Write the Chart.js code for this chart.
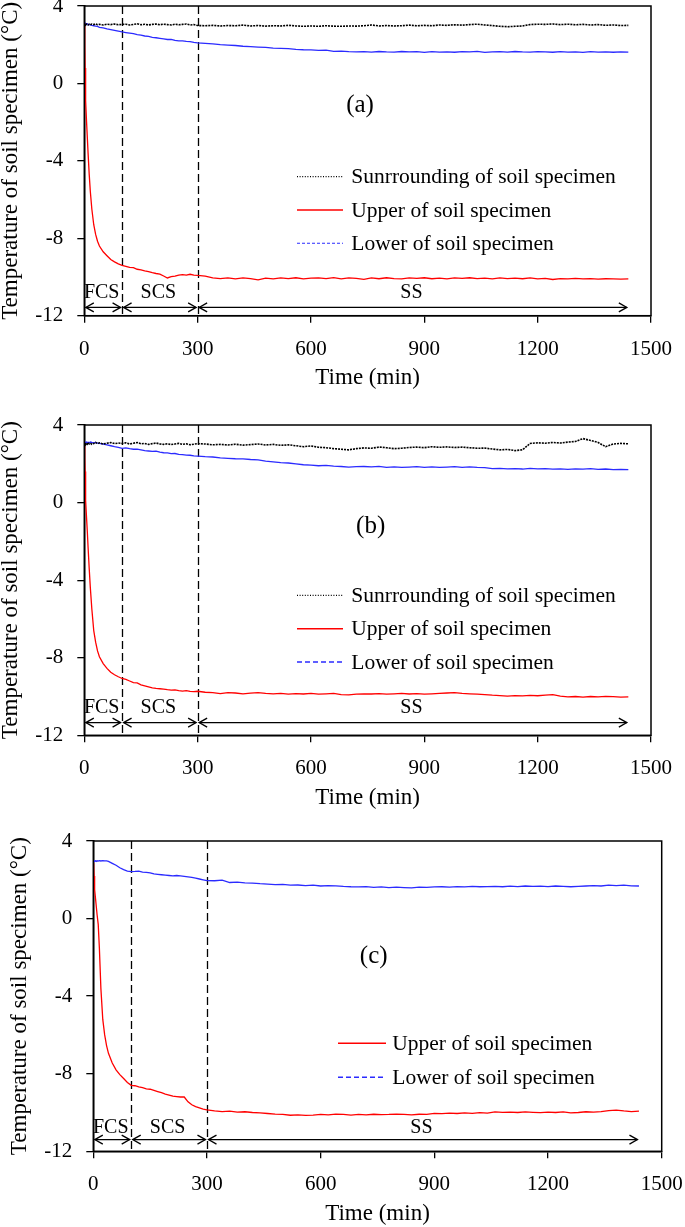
<!DOCTYPE html>
<html><head><meta charset="utf-8">
<script src="https://cdn.jsdelivr.net/npm/chart.js@4.4.0/dist/chart.umd.min.js"></script>
<style>
html,body{margin:0;padding:0;background:#fff;overflow:hidden;width:685px;height:1227px;position:relative}
canvas{position:absolute;left:0}
</style></head><body>
<canvas id="ca"></canvas><canvas id="cb"></canvas><canvas id="cc"></canvas>
<script>
// ---------- data ----------
const time = [0,1,2,3,4,6,8,10,13,16,20,25,30,35,40,50,60,70,80,90,100,
  110,120,130,140,150,160,170,180,190,200,210,220,230,240,250,260,270,280,290,300,
  320,340,360,380,400,420,440,460,480,500,
  520,540,560,580,600,620,640,660,680,700,
  720,740,760,780,800,820,840,860,880,900,
  920,940,960,980,1000,1020,1040,1060,1080,1100,
  1120,1140,1160,1180,1200,1220,1240,1260,1280,1300,
  1320,1340,1360,1380,1400,1420,1440];

const xTicks = [0,300,600,900,1200,1500];
const yTicks = [-12,-8,-4,0,4];
const phaseBounds = [0,100,300,1440];
const phaseNames = ['FCS','SCS','SS'];
const seriesNames = ['Sunrrounding of soil specimen','Upper of soil specimen','Lower of soil specimen'];
const panelNames = ['(a)','(b)','(c)'];
const xTitle = 'Time (min)';
const yTitle = 'Temperature of soil specimen (°C)';

const surroundA = [3.05,3.08,3.02,3.06,3.03,3.07,3.04,3.02,3.06,3.03,3.07,3.04,3.08,3.03,3.05,3.02,3.06,3.04,3.07,3.03,3.05,
  3.06,3.02,3.05,3.08,3.03,3.06,3.02,3.05,3.07,3.03,3.06,3.04,3.02,3.06,3.03,3.05,3.07,3.02,3.04,2.99,
  2.98,3.00,2.97,2.99,2.98,3.01,2.97,2.99,2.96,2.98,
  2.97,3.00,2.97,2.95,2.97,2.95,2.98,2.96,2.95,2.97,
  2.96,2.98,3.02,2.97,2.99,2.97,2.98,3.01,2.98,3.00,
  2.98,3.02,3.00,3.03,3.01,3.04,3.06,3.02,2.99,2.95,
  2.93,2.95,2.97,3.04,3.06,3.05,3.07,3.04,3.06,3.03,
  3.05,3.02,3.04,3.00,3.02,2.99,3.00];
const upperA = [3.1,2.0,0.8,-0.3,-0.9,-2.0,-2.8,-3.6,-4.7,-5.6,-6.5,-7.3,-7.8,-8.15,-8.4,-8.7,-8.9,-9.1,-9.22,-9.32,-9.4,
  -9.45,-9.5,-9.52,-9.6,-9.63,-9.68,-9.72,-9.78,-9.82,-9.85,-9.95,-10.05,-9.98,-9.95,-9.9,-9.88,-9.9,-9.86,-9.9,-9.92,
  -9.95,-10.05,-10.08,-10.05,-10.1,-10.05,-10.08,-10.15,-10.06,-10.1,
  -10.05,-10.08,-10.04,-10.1,-10.06,-10.05,-10.08,-10.03,-10.1,-10.05,
  -10.07,-10.12,-10.05,-10.09,-10.04,-10.08,-10.1,-10.05,-10.07,-10.04,
  -10.09,-10.06,-10.1,-10.05,-10.07,-10.04,-10.08,-10.06,-10.1,-10.05,
  -10.08,-10.06,-10.09,-10.05,-10.1,-10.07,-10.13,-10.08,-10.1,-10.07,
  -10.1,-10.08,-10.11,-10.09,-10.1,-10.11,-10.1];
const lowerA = [3.12,3.1,3.12,3.08,3.1,3.06,3.08,3.04,3.05,3.02,3.0,2.98,2.96,2.95,2.9,2.87,2.82,2.78,2.74,2.7,2.66,
  2.63,2.6,2.57,2.52,2.49,2.45,2.43,2.38,2.36,2.33,2.3,2.27,2.28,2.22,2.2,2.2,2.17,2.16,2.12,2.1,
  2.07,2.04,2.0,1.98,1.96,1.92,1.9,1.88,1.86,1.82,
  1.81,1.8,1.76,1.74,1.73,1.71,1.72,1.66,1.67,1.64,
  1.63,1.64,1.62,1.65,1.63,1.62,1.65,1.63,1.64,1.6,
  1.64,1.62,1.63,1.61,1.64,1.63,1.66,1.6,1.63,1.64,
  1.62,1.65,1.63,1.62,1.64,1.63,1.61,1.64,1.62,1.63,
  1.6,1.64,1.62,1.63,1.61,1.63,1.62];

const surroundB = [3.0,3.05,3.02,3.08,3.0,3.06,3.02,3.1,3.03,3.07,3.0,3.05,3.1,3.04,3.08,3.02,3.06,3.1,3.04,3.07,3.05,
  3.08,3.02,3.06,3.1,3.03,3.05,3.0,3.04,3.07,3.02,3.0,3.03,2.99,3.02,3.05,3.0,3.03,2.98,3.01,3.04,
  3.02,2.98,3.0,2.97,3.01,2.96,2.99,3.02,2.97,3.0,
  2.95,2.98,2.93,2.88,2.92,2.85,2.83,2.78,2.75,2.72,
  2.78,2.82,2.8,2.86,2.83,2.78,2.8,2.84,2.86,2.83,
  2.88,2.85,2.87,2.84,2.86,2.83,2.8,2.81,2.76,2.72,
  2.74,2.68,2.72,3.05,3.08,3.06,3.1,3.07,3.12,3.15,
  3.3,3.2,3.1,2.88,3.02,3.05,3.03];
const upperB = [3.0,2.3,1.6,0.9,0.1,-0.8,-1.5,-2.3,-3.4,-4.4,-5.5,-6.6,-7.2,-7.65,-7.95,-8.3,-8.55,-8.75,-8.88,-8.98,-9.07,
  -9.12,-9.2,-9.28,-9.3,-9.4,-9.45,-9.5,-9.55,-9.58,-9.6,-9.62,-9.65,-9.67,-9.66,-9.7,-9.72,-9.7,-9.74,-9.75,-9.73,
  -9.78,-9.8,-9.85,-9.8,-9.82,-9.86,-9.83,-9.8,-9.84,-9.86,
  -9.84,-9.88,-9.85,-9.87,-9.84,-9.88,-9.86,-9.84,-9.9,-9.92,
  -9.88,-9.86,-9.87,-9.85,-9.88,-9.86,-9.84,-9.87,-9.85,-9.88,
  -9.86,-9.84,-9.82,-9.8,-9.84,-9.86,-9.88,-9.9,-9.93,-9.95,
  -9.98,-9.95,-9.97,-9.94,-9.96,-9.93,-9.9,-9.98,-10.02,-10.0,
  -10.03,-10.0,-10.02,-9.99,-10.01,-10.03,-10.02];
const lowerB = [3.08,3.12,3.1,3.14,3.1,3.12,3.09,3.11,3.08,3.12,3.1,3.08,3.1,3.07,3.05,3.02,2.98,2.93,2.88,2.85,2.8,
  2.82,2.78,2.75,2.76,2.72,2.68,2.66,2.64,2.65,2.6,2.57,2.56,2.52,2.53,2.49,2.47,2.45,2.44,2.41,2.4,
  2.37,2.35,2.3,2.28,2.26,2.25,2.22,2.2,2.14,2.1,
  2.06,2.04,2.0,1.95,1.93,1.9,1.92,1.88,1.86,1.83,
  1.85,1.86,1.84,1.87,1.82,1.84,1.81,1.83,1.85,1.82,
  1.84,1.81,1.83,1.85,1.82,1.84,1.81,1.8,1.75,1.76,
  1.74,1.75,1.73,1.76,1.74,1.75,1.72,1.74,1.71,1.74,
  1.72,1.75,1.71,1.73,1.7,1.71,1.7];

const upperC = [2.85,2.6,2.2,1.8,1.5,1.0,0.6,0.2,-0.3,-1.5,-3.6,-5.2,-6.0,-6.55,-6.95,-7.45,-7.8,-8.05,-8.25,-8.45,-8.6,
  -8.62,-8.68,-8.72,-8.78,-8.8,-8.86,-8.92,-8.98,-9.05,-9.1,-9.16,-9.18,-9.2,-9.2,-9.45,-9.6,-9.7,-9.76,-9.82,-9.86,
  -9.92,-9.95,-9.93,-9.98,-9.96,-10.0,-10.02,-10.05,-10.08,-10.1,
  -10.14,-10.12,-10.15,-10.13,-10.1,-10.12,-10.08,-10.1,-10.13,-10.1,
  -10.12,-10.09,-10.11,-10.1,-10.08,-10.1,-10.12,-10.09,-10.1,-10.04,
  -10.06,-10.03,-10.05,-10.02,-10.04,-10.01,-10.03,-9.97,-9.99,-9.98,
  -10.0,-9.97,-9.99,-10.01,-9.98,-10.0,-9.97,-10.02,-10.0,-9.96,
  -9.98,-9.95,-9.9,-9.88,-9.92,-9.95,-9.93];
const lowerC = [2.95,2.98,2.95,2.98,2.96,2.98,2.95,2.98,2.96,2.99,2.97,2.99,2.98,2.97,2.95,2.85,2.75,2.62,2.52,2.45,2.42,
  2.43,2.45,2.4,2.38,2.36,2.3,2.28,2.26,2.24,2.22,2.2,2.22,2.2,2.18,2.15,2.12,2.08,2.04,2.0,1.96,
  1.95,1.98,1.86,1.88,1.84,1.83,1.8,1.78,1.75,1.76,
  1.72,1.73,1.7,1.72,1.68,1.7,1.69,1.66,1.64,1.63,
  1.65,1.61,1.63,1.6,1.62,1.6,1.58,1.62,1.61,1.63,
  1.64,1.62,1.65,1.63,1.66,1.64,1.65,1.66,1.64,1.67,
  1.65,1.68,1.66,1.67,1.65,1.68,1.66,1.64,1.66,1.68,
  1.7,1.68,1.72,1.7,1.72,1.69,1.68];

// ---------- drawing ----------
const FONT = "'Liberation Serif','Times New Roman',serif";
const BLACK = '#000000', RED = '#ff0000', BLUE = '#2b2bff';

function ds(label, ys, color, width, dash, legendDash, legendWidth) {
  return {label, data: time.map((t,i)=>({x:t, y:ys[i]})), borderColor: color, backgroundColor: color,
    borderWidth: width, borderDash: dash, pointRadius: 0, fill: false, tension: 0,
    legendDash, legendWidth};
}

function head(ctx, x, y, dir) {
  ctx.beginPath();
  ctx.moveTo(x - dir*8, y - 4.5); ctx.lineTo(x, y); ctx.lineTo(x - dir*8, y + 4.5);
  ctx.stroke();
}

const decor = {
  id: 'decor',
  beforeDatasetsDraw(chart, args, o) {
    const {ctx, chartArea: a, scales: {x}} = chart;
    ctx.save();
    ctx.strokeStyle = BLACK; ctx.lineWidth = 1.3; ctx.setLineDash([8,4]);
    [phaseBounds[1], phaseBounds[2]].forEach(v => {
      const px = Math.round(x.getPixelForValue(v)) + 0.5;
      ctx.beginPath(); ctx.moveTo(px, a.top); ctx.lineTo(px, a.bottom); ctx.stroke();
    });
    ctx.restore();
  },
  afterDraw(chart, args, o) {
    const {ctx, chartArea: a, scales: {x}} = chart;
    ctx.save();
    // frame
    ctx.strokeStyle = BLACK; ctx.lineWidth = 1.5; ctx.setLineDash([]);
    ctx.strokeRect(a.left, a.top, a.right - a.left, a.bottom - a.top);
    // phase arrows
    ctx.lineWidth = 1.3;
    const ay = a.bottom - o.arrowUp;
    for (let i = 0; i < phaseNames.length; i++) {
      const x0 = x.getPixelForValue(phaseBounds[i]) + 1.5;
      const x1 = x.getPixelForValue(phaseBounds[i+1]) - 1.5;
      ctx.beginPath(); ctx.moveTo(x0, ay); ctx.lineTo(x1, ay); ctx.stroke();
      head(ctx, x0, ay, -1); head(ctx, x1, ay, 1);
      ctx.fillStyle = BLACK; ctx.font = '20px ' + FONT;
      ctx.textAlign = 'center'; ctx.textBaseline = 'middle';
      ctx.fillText(phaseNames[i], (x0 + x1)/2 - 1.5, a.bottom - o.textUp);
    }
    // panel label
    ctx.font = '25px ' + FONT; ctx.textAlign = 'center'; ctx.textBaseline = 'middle';
    ctx.fillText(o.panel, a.left + o.panelX, a.top + o.panelY);
    // legend
    const L = o.legend;
    ctx.font = '21.5px ' + FONT; ctx.textAlign = 'left';
    chart.data.datasets.forEach((d, i) => {
      const yy = a.top + L.y + i * L.gap;
      const xs = a.left + L.x;
      ctx.strokeStyle = d.borderColor; ctx.lineWidth = d.legendWidth;
      ctx.setLineDash(d.legendDash);
      ctx.beginPath(); ctx.moveTo(xs, yy); ctx.lineTo(xs + L.len, yy); ctx.stroke();
      ctx.setLineDash([]);
      ctx.fillStyle = BLACK;
      ctx.fillText(d.label, xs + L.len + L.textGap, yy + 1);
    });
    ctx.restore();
  }
};

function makePanel(id, box, datasets, deco) {
  const canvas = document.getElementById(id);
  const canvasTop = Math.max(0, box.T - 20);
  const H = Math.round(box.B + 82 - canvasTop);
  canvas.width = 685; canvas.height = H;
  canvas.style.width = '685px'; canvas.style.height = H + 'px';
  canvas.style.top = canvasTop + 'px';
  const xH = 76;            // x-axis box height (ticks + title)
  const padTop = box.T - canvasTop;
  const padBottom = H - (box.B - canvasTop) - xH;
  const yW = box.L;
  const titleLH = 23 * 1.2;
  return new Chart(canvas, {
    type: 'line',
    data: {datasets},
    plugins: [decor],
    options: {
      responsive: false, animation: false, events: [],
      layout: {padding: {top: padTop, bottom: padBottom, left: 0, right: 685 - box.R}},
      plugins: {legend: {display: false}, tooltip: {enabled: false}, decor: deco},
      scales: {
        x: {
          type: 'linear', min: 0, max: 1500,
          afterBuildTicks: s => { s.ticks = xTicks.map(v => ({value: v})); },
          ticks: {font: {family: FONT, size: 21}, color: BLACK, padding: 14, maxRotation: 0, autoSkip: false,
                  callback: v => String(v)},
          grid: {drawOnChartArea: false, drawTicks: true, tickLength: 7, color: BLACK, lineWidth: 1.3},
          border: {display: true, color: BLACK, width: 1.5},
          title: {display: true, text: xTitle, font: {family: FONT, size: 23}, color: BLACK, padding: {top: 0, bottom: 0}},
          afterFit: s => { s.height = xH; s.paddingLeft = 0; s.paddingRight = 0; }
        },
        y: {
          type: 'linear', min: -12, max: 4,
          afterBuildTicks: s => { s.ticks = yTicks.map(v => ({value: v})); },
          ticks: {font: {family: FONT, size: 21}, color: BLACK, padding: 14, callback: v => String(v)},
          grid: {drawOnChartArea: false, drawTicks: true, tickLength: 7, color: BLACK, lineWidth: 1.3},
          border: {display: true, color: BLACK, width: 1.5},
          title: {display: true, text: yTitle, font: {family: FONT, size: 23}, color: BLACK,
                  padding: {top: box.L - 73 - titleLH/2, bottom: 0}},
          afterFit: s => { s.width = yW; s.paddingTop = 0; s.paddingBottom = 0; }
        }
      }
    }
  });
}

makePanel('ca', {L: 84.3, T: 6, R: 651, B: 315.7}, [
  ds(seriesNames[0], surroundA, BLACK, 1.6, [2,1], [1,1.6], 1.3),
  ds(seriesNames[1], upperA, RED, 1.3, [], [], 1.5),
  ds(seriesNames[2], lowerA, BLUE, 1.3, [], [3,2], 1.1)
], {panel: panelNames[0], panelX: 275.7, panelY: 99, arrowUp: 8.3, textUp: 23,
    legend: {x: 212.7, y: 170.7, gap: 33.3, len: 46, textGap: 8.3}});

makePanel('cb', {L: 84.3, T: 424.7, R: 651, B: 735}, [
  ds(seriesNames[0], surroundB, BLACK, 1.6, [2,1], [1,1.6], 1.3),
  ds(seriesNames[1], upperB, RED, 1.3, [], [], 1.5),
  ds(seriesNames[2], lowerB, BLUE, 1.3, [], [5,3], 1.5)
], {panel: panelNames[1], panelX: 286.4, panelY: 101.3, arrowUp: 12.7, textUp: 27.5,
    legend: {x: 212.7, y: 170.3, gap: 33.4, len: 46, textGap: 8.3}});

makePanel('cc', {L: 93.3, T: 840.7, R: 661.7, B: 1151}, [
  ds(seriesNames[1], upperC, RED, 1.3, [], [], 1.5),
  ds(seriesNames[2], lowerC, BLUE, 1.3, [], [5,3], 1.5)
], {panel: panelNames[2], panelX: 280.4, panelY: 115.3, arrowUp: 11.7, textUp: 23.5,
    legend: {x: 244.7, y: 202.3, gap: 34, len: 48, textGap: 6.3}});
</script>
</body></html>
